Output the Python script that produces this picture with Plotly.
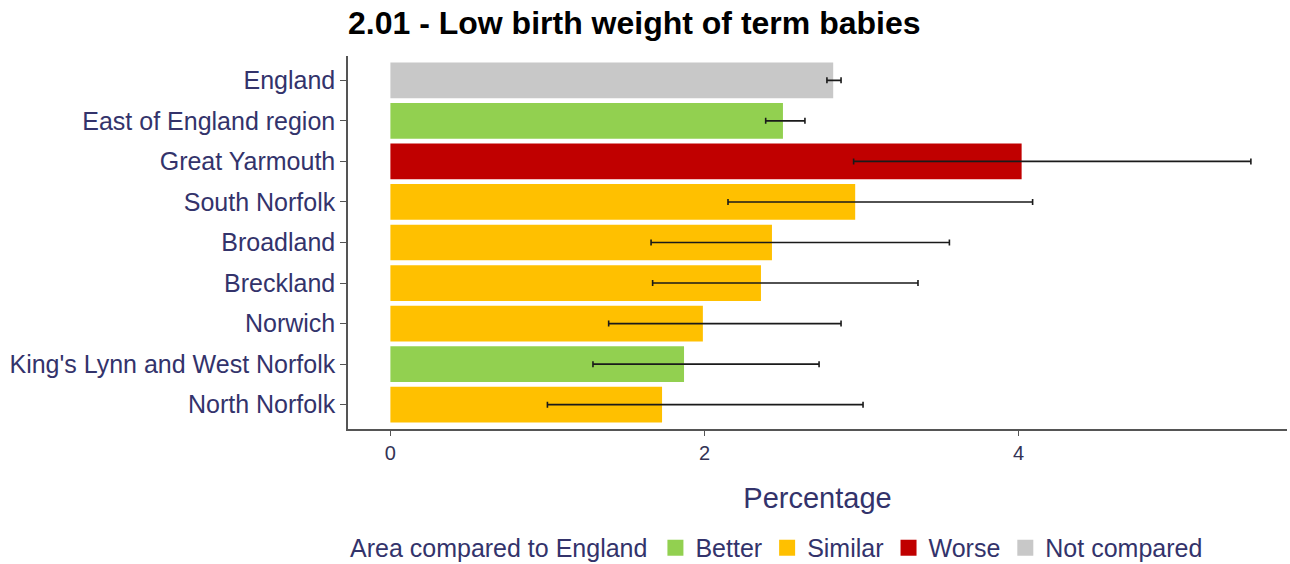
import plotly.graph_objects as go

areas = ["England", "East of England region", "Great Yarmouth", "South Norfolk", "Broadland",
         "Breckland", "Norwich", "King's Lynn and West Norfolk", "North Norfolk"]
values = [2.82, 2.50, 4.02, 2.96, 2.43, 2.36, 1.99, 1.87, 1.73]
lower_ci = [2.78, 2.39, 2.95, 2.15, 1.66, 1.67, 1.39, 1.29, 1.00]
upper_ci = [2.87, 2.64, 5.48, 4.09, 3.56, 3.36, 2.87, 2.73, 3.01]
comparison = ["Not compared", "Better", "Worse", "Similar", "Similar",
              "Similar", "Similar", "Better", "Similar"]

groups = ["Better", "Similar", "Worse", "Not compared"]
colors = {"Better": "#92d050", "Similar": "#ffc000", "Worse": "#c00000", "Not compared": "#c8c8c8"}

NAVY = "#33336b"
FONT = "Liberation Sans, Arial, sans-serif"
fig = go.Figure()
for g in groups:
    idx = [i for i, c in enumerate(comparison) if c == g]
    fig.add_trace(go.Bar(
        name=g,
        orientation="h",
        y=[areas[i] for i in idx],
        x=[values[i] for i in idx],
        marker=dict(color=colors[g], line=dict(width=0)),
        width=0.88,
        showlegend=False,
        error_x=dict(
            type="data", symmetric=False,
            array=[upper_ci[i] - values[i] for i in idx],
            arrayminus=[values[i] - lower_ci[i] for i in idx],
            color="#1a1a1a", thickness=1.6, width=3,
        ),
    ))
# legend keys
for g in groups:
    fig.add_trace(go.Scatter(
        name=g, x=[None], y=[None], mode="markers",
        marker=dict(symbol="square", size=20, color=colors[g]),
        showlegend=True,
    ))

fig.update_layout(
    width=1290, height=564,
    plot_bgcolor="white", paper_bgcolor="white",
    barmode="overlay",
    margin=dict(l=348, r=3, t=56, b=135, autoexpand=False),
    font=dict(family=FONT, color=NAVY),
    title=dict(text="<b>2.01 - Low birth weight of term babies</b>",
               x=348 / 1290, xref="container", xanchor="left",
               y=1 - 23 / 564, yref="container", yanchor="middle",
               font=dict(size=32, color="black")),
    xaxis=dict(range=[-0.27, 5.71], tickvals=[0, 2, 4], ticktext=["0", "2", "4"],
               showgrid=False, zeroline=False, showline=True, linecolor="#555555", linewidth=1.5,
               ticks="outside", ticklen=5, tickcolor="#555555",
               tickfont=dict(size=20, color="#333355"),
               title=dict(text="Percentage", font=dict(size=29, color=NAVY), standoff=25)),
    yaxis=dict(categoryorder="array", categoryarray=areas[::-1], range=[-0.6, 8.6],
               showgrid=False, zeroline=False, showline=True, linecolor="#555555", linewidth=1.5,
               ticks="outside", ticklen=6, tickcolor="#555555",
               tickfont=dict(size=25, color=NAVY)),
    legend=dict(orientation="h", x=0, xanchor="left", y=-0.319, yanchor="middle",
                title=dict(text="Area compared to England", font=dict(size=25, color=NAVY), side="left"),
                font=dict(size=25, color=NAVY), traceorder="normal", itemwidth=30),
    showlegend=True,
)

fig.write_html("out.html", config={"displayModeBar": False},
               post_script="document.body.style.margin='0px';")
